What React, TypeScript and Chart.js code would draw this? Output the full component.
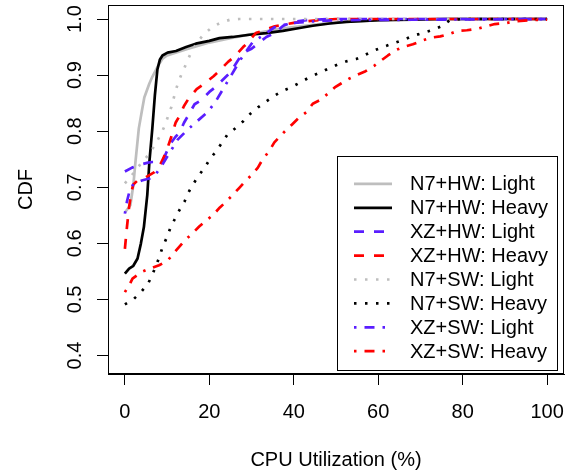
import React, { useEffect, useRef } from 'react';
import { Chart, registerables } from 'chart.js';

Chart.register(...registerables);

const FONT = '"Liberation Sans", Arimo, Arial, Helvetica, sans-serif';

const X_TICKS = [0, 20, 40, 60, 80, 100];
const Y_TICKS = [0.4, 0.5, 0.6, 0.7, 0.8, 0.9, 1.0];
const X_TITLE = 'CPU Utilization (%)';
const Y_TITLE = 'CDF';

const SERIES_LABELS = [
  'N7+HW: Light',
  'N7+HW: Heavy',
  'XZ+HW: Light',
  'XZ+HW: Heavy',
  'N7+SW: Light',
  'N7+SW: Heavy',
  'XZ+SW: Light',
  'XZ+SW: Heavy',
];

// N7+HW: Light
const n7hwLightX = [0, 0.5, 1.3, 2, 2.5, 3.3, 4, 4.6, 5.8, 6.5, 8.1, 9, 10, 12, 15, 20, 25, 30, 37, 45, 52, 60, 70, 100];
const n7hwLightY = [0.655, 0.66, 0.668, 0.704, 0.745, 0.805, 0.835, 0.86, 0.885, 0.897, 0.92, 0.93, 0.935, 0.94, 0.947, 0.958, 0.966, 0.973, 0.983, 0.99, 0.995, 0.998, 1.0, 1.0];

// N7+HW: Heavy
const n7hwHeavyX = [0, 1, 2, 3, 3.8, 4.5, 5.3, 5.8, 6.5, 7.1, 7.7, 8.3, 8.9, 10.1, 12.1, 14.5, 16.8, 20, 22.4, 25.5, 29.5, 33.5, 37.4, 41.4, 44.5, 48.5, 52.4, 60.3, 68.2, 76, 100];
const n7hwHeavyY = [0.546, 0.555, 0.56, 0.573, 0.6, 0.629, 0.686, 0.745, 0.805, 0.864, 0.91, 0.928, 0.935, 0.94, 0.943, 0.95, 0.956, 0.961, 0.966, 0.968, 0.972, 0.975, 0.979, 0.984, 0.988, 0.992, 0.995, 0.998, 0.999, 1.0, 1.0];

// XZ+HW: Light
const xzhwLightX = [0, 1.7, 3.5, 5.5, 6.5, 8, 9, 10, 11, 12, 13, 14, 15, 16.5, 18, 20, 21.5, 23.5, 25, 26.5, 28, 30, 31.5, 33.5, 35.5, 37.5, 40, 43, 48, 100];
const xzhwLightY = [0.728, 0.735, 0.74, 0.744, 0.745, 0.745, 0.748, 0.765, 0.78, 0.79, 0.798, 0.815, 0.828, 0.848, 0.855, 0.87, 0.879, 0.894, 0.905, 0.923, 0.94, 0.947, 0.956, 0.968, 0.975, 0.988, 0.995, 0.998, 1.0, 1.0];

// XZ+HW: Heavy
const xzhwHeavyX = [0, 0.5, 1, 1.5, 2, 3, 5, 7, 8, 9, 10, 11, 12, 13, 14, 15, 17, 18.5, 21, 22, 24.5, 26, 28, 29, 31, 33, 35.5, 37.5, 40, 42, 46, 50, 100];
const xzhwHeavyY = [0.59, 0.63, 0.665, 0.69, 0.705, 0.712, 0.718, 0.727, 0.735, 0.75, 0.768, 0.79, 0.815, 0.828, 0.845, 0.857, 0.875, 0.883, 0.898, 0.905, 0.924, 0.933, 0.95, 0.957, 0.975, 0.98, 0.987, 0.99, 0.993, 0.995, 0.998, 1.0, 1.0];

// N7+SW: Light
const n7swLightX = [0, 1.5, 3, 4.5, 6, 7.3, 8.4, 9.4, 10.2, 11, 11.6, 12.3, 13.1, 14.1, 15, 16, 17.2, 18.6, 20.6, 22.8, 25, 27, 100];
const n7swLightY = [0.707, 0.72, 0.735, 0.748, 0.762, 0.778, 0.793, 0.809, 0.826, 0.843, 0.86, 0.879, 0.896, 0.913, 0.929, 0.945, 0.959, 0.972, 0.985, 0.994, 0.999, 1.0, 1.0];

// N7+SW: Heavy
const n7swHeavyX = [0, 2, 3.8, 5.4, 6.4, 8.2, 8.9, 9.9, 10.7, 11.8, 12.9, 14.1, 15, 16.3, 17.5, 18.9, 20.2, 21.7, 24.3, 26.3, 28.1, 29.7, 31.6, 33.5, 35.4, 37.4, 39.6, 41.8, 43.9, 46.1, 48.3, 50.4, 52.7, 54.9, 57.2, 59.4, 61.5, 63.7, 66, 68.2, 70.5, 72.7, 75, 77, 80, 100];
const n7swHeavyY = [0.491, 0.5, 0.513, 0.527, 0.542, 0.576, 0.593, 0.61, 0.626, 0.643, 0.659, 0.674, 0.69, 0.707, 0.721, 0.735, 0.751, 0.765, 0.794, 0.806, 0.818, 0.831, 0.843, 0.853, 0.863, 0.872, 0.879, 0.888, 0.897, 0.904, 0.912, 0.919, 0.925, 0.929, 0.937, 0.945, 0.951, 0.957, 0.963, 0.97, 0.975, 0.98, 0.987, 0.998, 1.0, 1.0];

// XZ+SW: Light
const xzswLightX = [0, 0.5, 1, 2, 4, 6, 7.3, 9, 10.8, 12.5, 14.9, 17, 19.6, 21.5, 23.4, 26, 28, 30.3, 33, 35.4, 38, 40, 45, 50, 100];
const xzswLightY = [0.653, 0.675, 0.69, 0.706, 0.712, 0.716, 0.723, 0.742, 0.764, 0.785, 0.803, 0.817, 0.834, 0.853, 0.877, 0.91, 0.935, 0.959, 0.972, 0.985, 0.99, 0.993, 0.996, 0.998, 1.0];

// XZ+SW: Heavy
const xzswHeavyX = [0, 1.2, 1.8, 4, 5.9, 8.1, 10.1, 11.5, 14.3, 15.9, 17.6, 19, 20.8, 22.5, 23.8, 25.5, 27.1, 28.3, 29.9, 31.5, 32.5, 34.2, 35.4, 37.8, 39.6, 41.1, 43, 44.5, 46.1, 48.1, 49.7, 51.2, 53.2, 54.9, 57, 59.1, 60.7, 62.3, 64.3, 66.3, 68.2, 70.6, 72.6, 74.7, 77.1, 78.9, 81, 83.7, 85.6, 87.6, 90.4, 92.4, 96, 100];
const xzswHeavyY = [0.513, 0.528, 0.537, 0.549, 0.555, 0.561, 0.569, 0.582, 0.606, 0.617, 0.63, 0.639, 0.65, 0.664, 0.673, 0.686, 0.699, 0.709, 0.721, 0.735, 0.748, 0.765, 0.78, 0.799, 0.812, 0.823, 0.834, 0.849, 0.855, 0.867, 0.878, 0.885, 0.894, 0.9, 0.907, 0.917, 0.926, 0.935, 0.945, 0.951, 0.955, 0.962, 0.967, 0.969, 0.974, 0.979, 0.98, 0.983, 0.987, 0.991, 0.993, 0.996, 0.998, 0.999];

const SERIES_X = [n7hwLightX, n7hwHeavyX, xzhwLightX, xzhwHeavyX, n7swLightX, n7swHeavyX, xzswLightX, xzswHeavyX];
const SERIES_Y = [n7hwLightY, n7hwHeavyY, xzhwLightY, xzhwHeavyY, n7swLightY, n7swHeavyY, xzswLightY, xzswHeavyY];

const GRAY = '#BEBEBE';
const BLUE = '#5A1EFF';
const RED = '#FF0000';
const BLACK = '#000000';
const SERIES_COLORS = [GRAY, BLACK, BLUE, RED, GRAY, BLACK, BLUE, RED];

const SOLID: number[] = [];
const DASHED = [10, 10];
const DOTTED = [2.5, 8.5];
const DOTDASH = [2.5, 8, 10, 8];
const SERIES_DASH = [SOLID, SOLID, DASHED, DASHED, DOTTED, DOTTED, DOTDASH, DOTDASH];

const LINE_WIDTH = 2.7;

const frameLegendPlugin = {
  id: 'frameLegend',
  afterDraw(chart: any) {
    const ctx = chart.ctx as CanvasRenderingContext2D;
    const a = chart.chartArea;
    ctx.save();
    ctx.setLineDash([]);
    ctx.strokeStyle = '#000';
    ctx.lineWidth = 1;
    const l = Math.round(a.left) + 0.5;
    const t = Math.round(a.top) + 0.5;
    const r = Math.round(a.right) - 0.5;
    const b = Math.round(a.bottom) - 0.5;
    ctx.strokeRect(l, t, r - l, b - t);

    // legend box (bottom right)
    const boxRight = Math.round(a.right) - 6.5;
    const boxBottom = Math.round(a.bottom) - 3.5;
    const boxLeft = 337.5;
    const rowH = 23.9;
    const n = chart.data.datasets.length;
    const lastCenter = boxBottom - 19.3;
    const firstCenter = lastCenter - (n - 1) * rowH;
    const boxTop = Math.round(firstCenter - 28) + 0.5;
    ctx.fillStyle = '#fff';
    ctx.fillRect(boxLeft, boxTop, boxRight - boxLeft, boxBottom - boxTop);
    ctx.strokeStyle = '#000';
    ctx.lineWidth = 1;
    ctx.strokeRect(boxLeft, boxTop, boxRight - boxLeft, boxBottom - boxTop);

    const sx0 = boxLeft + 16.5;
    const sx1 = sx0 + 38;
    const tx = boxLeft + 72.5;
    ctx.font = `20px ${FONT}`;
    ctx.textBaseline = 'middle';
    ctx.textAlign = 'left';
    chart.data.datasets.forEach((ds: any, i: number) => {
      const cy = firstCenter + i * rowH;
      ctx.save();
      ctx.strokeStyle = ds.borderColor;
      ctx.lineWidth = ds.borderWidth;
      ctx.lineCap = 'butt';
      ctx.setLineDash(ds.borderDash || []);
      ctx.lineDashOffset = 0;
      ctx.beginPath();
      ctx.moveTo(sx0, cy);
      ctx.lineTo(sx1, cy);
      ctx.stroke();
      ctx.restore();
      ctx.fillStyle = '#000';
      ctx.fillText(ds.label, tx, cy + 1);
    });
    ctx.restore();
  },
};

export default function App() {
  const canvasRef = useRef<HTMLCanvasElement | null>(null);

  useEffect(() => {
    const canvas = canvasRef.current;
    if (!canvas) return;
    const datasets = SERIES_LABELS.map((label, i) => ({
      label,
      data: SERIES_X[i].map((x, j) => ({ x, y: SERIES_Y[i][j] })),
      borderColor: SERIES_COLORS[i],
      backgroundColor: SERIES_COLORS[i],
      borderWidth: LINE_WIDTH,
      borderDash: SERIES_DASH[i],
      borderCapStyle: 'butt' as const,
      borderJoinStyle: 'round' as const,
      pointRadius: 0,
      pointHoverRadius: 0,
      tension: 0,
      fill: false,
      order: SERIES_LABELS.length - 1 - i,
    }));

    const chart = new Chart(canvas, {
      type: 'line',
      data: { datasets },
      options: {
        animation: false,
        responsive: false,
        devicePixelRatio: 1,
        events: [],
        layout: { padding: { top: 5, right: 8, left: 0, bottom: 0 } },
        plugins: {
          legend: { display: false },
          tooltip: { enabled: false },
        },
        scales: {
          x: {
            type: 'linear',
            position: 'bottom',
            min: -4,
            max: 104,
            afterBuildTicks: (s: any) => {
              s.ticks = X_TICKS.map((v) => ({ value: v }));
            },
            afterFit: (s: any) => {
              s.height = 100;
              s.paddingLeft = 0;
              s.paddingRight = 0;
              s.paddingTop = 0;
              s.paddingBottom = 0;
            },
            grid: {
              display: true,
              drawOnChartArea: false,
              drawTicks: true,
              tickLength: 11,
              color: '#000',
              lineWidth: 1,
            },
            border: { display: true, color: '#000', width: 1 },
            ticks: {
              autoSkip: false,
              maxRotation: 0,
              minRotation: 0,
              padding: 15.7,
              color: '#000',
              font: { family: FONT, size: 20 },
              callback: (v: any) => String(v),
            },
            title: {
              display: true,
              text: X_TITLE,
              color: '#000',
              font: { family: FONT, size: 20 },
              padding: { top: 1.3, bottom: 1.3 },
            },
          },
          y: {
            type: 'linear',
            position: 'left',
            min: 0.367,
            max: 1.025,
            afterBuildTicks: (s: any) => {
              s.ticks = Y_TICKS.map((v) => ({ value: v }));
            },
            afterFit: (s: any) => {
              s.width = 108;
              s.paddingLeft = 0;
              s.paddingRight = 0;
              s.paddingTop = 0;
              s.paddingBottom = 0;
            },
            grid: {
              display: true,
              drawOnChartArea: false,
              drawTicks: true,
              tickLength: 11,
              color: '#000',
              lineWidth: 1,
            },
            border: { display: true, color: '#000', width: 1 },
            ticks: {
              autoSkip: false,
              minRotation: 90,
              maxRotation: 90,
              crossAlign: 'center',
              padding: 7.6,
              color: '#000',
              font: { family: FONT, size: 20 },
              callback: (v: any) => Number(v).toFixed(1),
            },
            title: {
              display: true,
              text: Y_TITLE,
              color: '#000',
              font: { family: FONT, size: 20 },
              padding: { top: 14.7, bottom: 14.7 },
            },
          },
        },
      },
      plugins: [frameLegendPlugin],
    });

    return () => {
      chart.destroy();
    };
  }, []);

  return (
    <div style={{ position: 'absolute', left: 0, top: 0, width: 572, height: 474, background: '#fff' }}>
      <canvas ref={canvasRef} width={572} height={474} style={{ display: 'block', width: 572, height: 474 }} />
    </div>
  );
}
